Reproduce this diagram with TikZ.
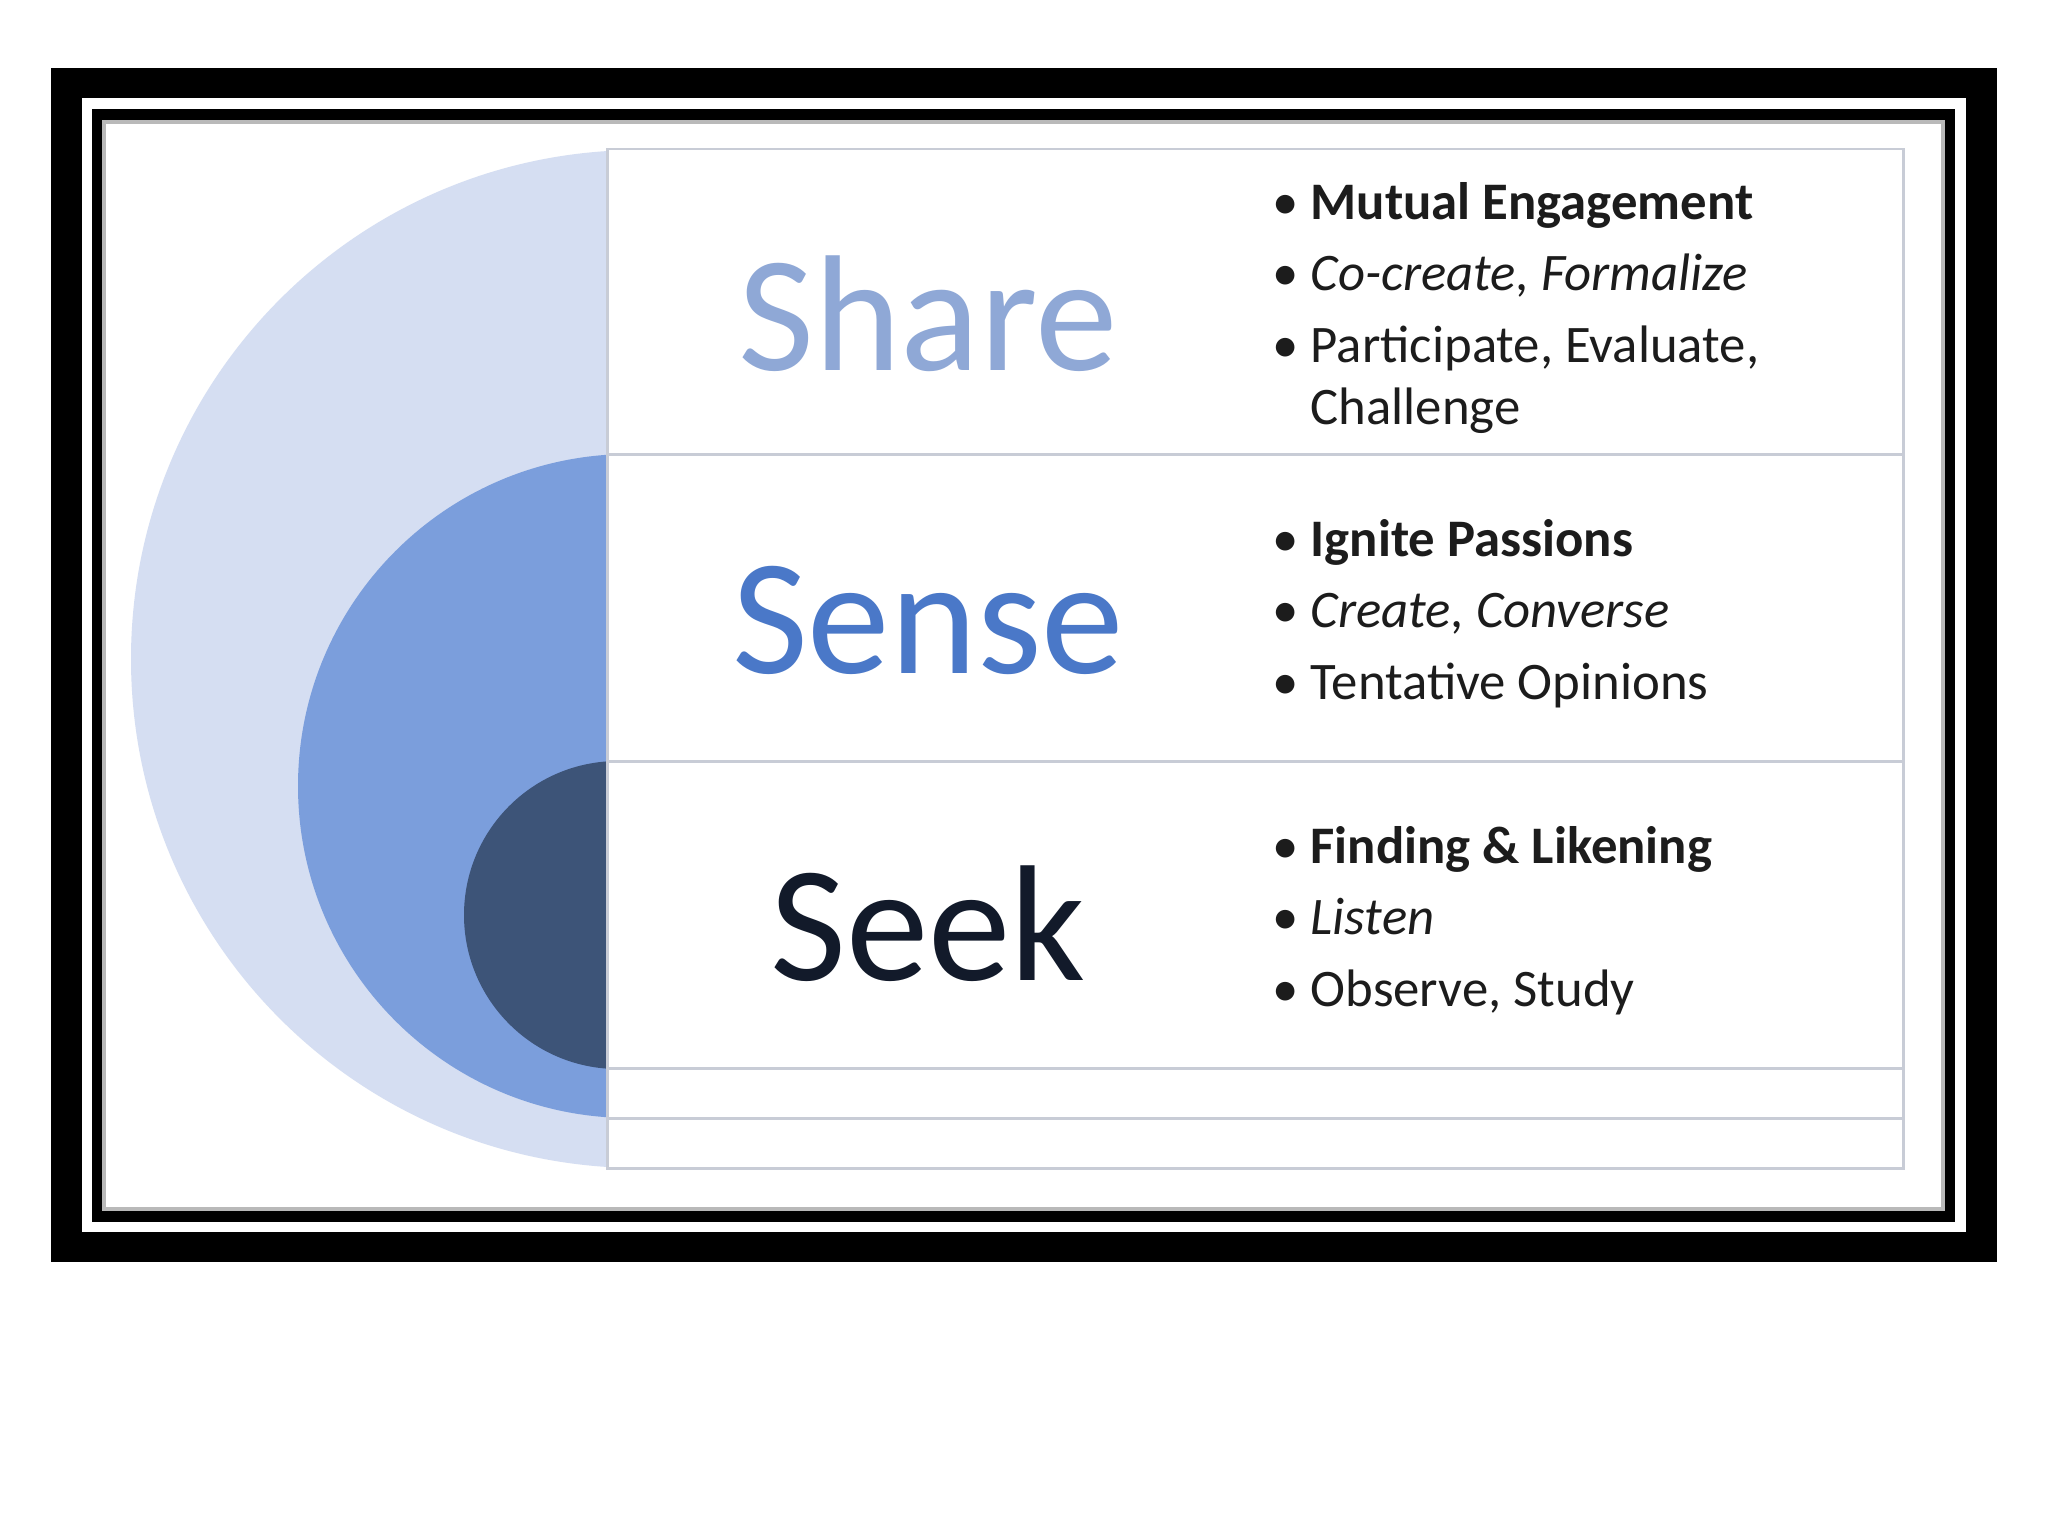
\documentclass[tikz,border=0pt]{standalone}
\usepackage{fontspec}
\setmainfont{Carlito}
\usepackage{tikz}
\usetikzlibrary{positioning}
\definecolor{paleblue}{RGB}{213,222,242}
\definecolor{midblue}{RGB}{123,158,220}
\definecolor{deepblue}{RGB}{61,84,120}
\definecolor{sharetext}{RGB}{143,168,214}
\definecolor{sensetext}{RGB}{74,120,200}
\definecolor{seektext}{RGB}{18,26,42}
\definecolor{rulegray}{RGB}{200,204,214}
\definecolor{bodytext}{RGB}{28,28,28}
\tikzset{
  stagelabel/.style={anchor=base, inner sep=0pt, font=\fontsize{47}{56}\selectfont},
  pointlist/.style={anchor=base west, inner sep=0pt, text=bodytext,
    font=\fontsize{15}{17.6}\selectfont},
  rowrule/.style={draw=rulegray, line width=0.85pt}
}
\newcommand{\pointrows}[1]{\begin{tabular}[t]{@{}p{10.8pt}@{}l@{}}#1\end{tabular}}

\begin{document}
\begin{tikzpicture}[x=0.01cm, y=-0.01cm]
\fill[white] (0,0) rectangle (2048,1536);
\useasboundingbox (0,0) rectangle (2048,1536);
\fill[black] (51,68) rectangle (1997,1262);
\fill[white] (82,98) rectangle (1966,1232);
\fill[black] (92,109) rectangle (1955,1222);
\fill[white] (102,120) rectangle (1945,1211);
\draw[gray!55, line width=1.1pt] (104,122) rectangle (1943,1209);

\begin{scope}
\clip (110,130) rectangle (607,1200);
\fill[paleblue] (640,659) circle (509);
\fill[midblue] (630,786) circle (332);
\fill[deepblue] (618,915) circle (154);
\end{scope}

\draw[rowrule] (607,149) rectangle (1903,1168);
\foreach \y in {454,761,1068,1118}
  \draw[rowrule] (607,\y) -- (1903,\y);

\node[stagelabel, text=sharetext] (share) at (928,370) {Share};
\node[stagelabel, text=sensetext] (sense) at (928,673) {Sense};
\node[stagelabel, text=seektext] (seek) at (928,980) {Seek};

\node[pointlist] (sharepts) at (1272,219) {\pointrows{
  \textbullet & \textbf{Mutual Engagement}\\[2.8pt]
  \textbullet & \textit{Co-create, Formalize}\\[2.8pt]
  \textbullet & Participate, Evaluate,\\
  & Challenge}};
\node[pointlist] (sensepts) at (1272,556) {\pointrows{
  \textbullet & \textbf{Ignite Passions}\\[2.8pt]
  \textbullet & \textit{Create, Converse}\\[2.8pt]
  \textbullet & Tentative Opinions}};
\node[pointlist] (seekpts) at (1272,863) {\pointrows{
  \textbullet & \textbf{Finding \& Likening}\\[2.8pt]
  \textbullet & \textit{Listen}\\[2.8pt]
  \textbullet & Observe, Study}};
\end{tikzpicture}
\end{document}
